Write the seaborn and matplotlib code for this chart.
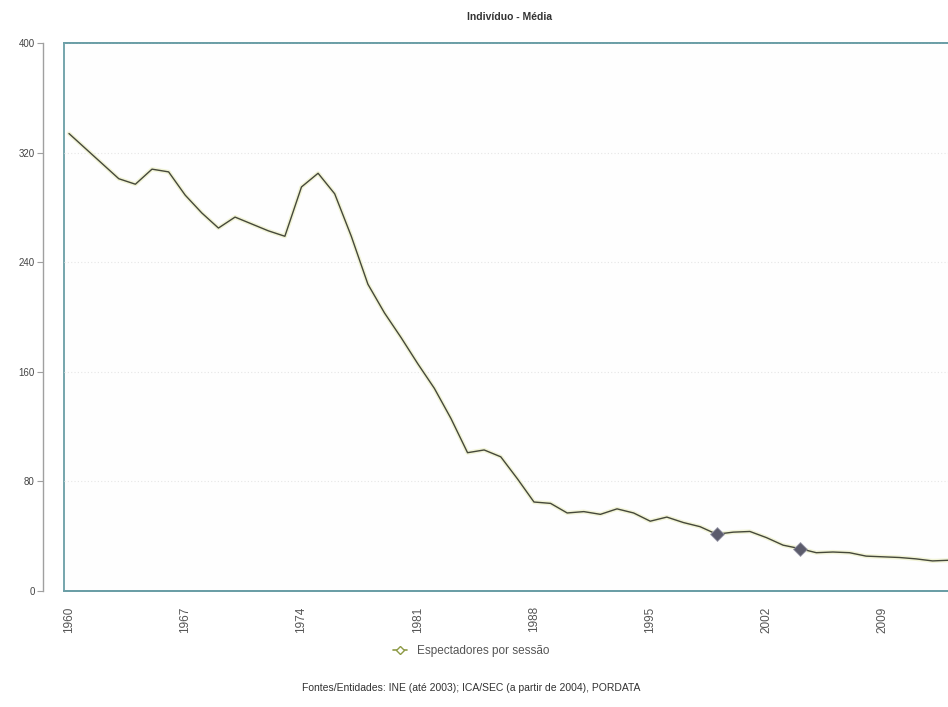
import numpy as np
import pandas as pd
import matplotlib
matplotlib.use("Agg")
import matplotlib.pyplot as plt
from matplotlib.lines import Line2D
import seaborn as sns

sns.set_theme(style="white")
plt.rcParams['font.family'] = ['Liberation Sans', 'DejaVu Sans']

# espectadores por sessão, 1960-2013
years = list(range(1960, 2014))
espectadores = [
    334, 323, 312, 301, 297, 308, 306, 289, 276, 265,
    273, 268, 263, 259, 295, 305, 290, 259, 224, 203,
    185, 166, 148, 126, 101, 103, 98, 82, 65, 64,
    57, 58, 56, 60, 57, 51, 54, 50, 47, 41.5,
    43, 43.5, 39, 33.5, 31, 28, 28.5, 28, 25.5, 25,
    24.5, 23.5, 22, 22.5,
]
break_years = [1999, 2004]  # quebras de série
tick_years = [1960, 1967, 1974, 1981, 1988, 1995, 2002, 2009]
y_ticks = [0, 80, 160, 240, 320, 400]

df = pd.DataFrame({"ano": years, "valor": espectadores})
brk = df[df["ano"].isin(break_years)]

frame_col = "#6a9ea6"
line_col = "#45483a"

fig = plt.figure(figsize=(9.48, 7.07), dpi=100)
ax = fig.add_axes([0.0675, 0.164, 0.96, 0.775])

# halo + linha
sns.lineplot(data=df, x="ano", y="valor", ax=ax, color="#f1f3d6", linewidth=3, legend=False)
sns.lineplot(data=df, x="ano", y="valor", ax=ax, color=line_col, linewidth=1.0, legend=False)
sns.scatterplot(data=brk, x="ano", y="valor", ax=ax, marker="D", s=50,
                color="#5c5c6c", edgecolor="#9a9aaa", linewidth=0.6, zorder=5, legend=False)

ax.set_xlim(1959.7, 2014.5)
ax.set_ylim(0, 400)
ax.set_xticks(tick_years)
ax.set_xticklabels([str(y) for y in tick_years], rotation=90)
ax.set_yticks(y_ticks)
ax.set_xlabel("")
ax.set_ylabel("")

ax.yaxis.grid(True, linestyle=(0, (1, 2)), color="#e6e6e6", linewidth=0.8)
ax.xaxis.grid(False)

ax.patch.set_facecolor("#fefefe")
ax.patch.set_edgecolor(frame_col)
ax.patch.set_linewidth(1.3)

for s in ["top", "bottom"]:
    ax.spines[s].set_color(frame_col)
    ax.spines[s].set_linewidth(1.3)
ax.spines["right"].set_visible(False)
ax.spines["left"].set_position(("outward", 15))
ax.spines["left"].set_color("#a0a0a0")
ax.spines["left"].set_linewidth(1)

ax.tick_params(axis="y", which="both", left=True, length=4, width=0.8, color="#a0a0a0",
               labelsize=7, labelcolor="#444444", pad=2)
ax.tick_params(axis="x", which="both", bottom=False, labelsize=8.5, labelcolor="#555555", pad=5)

fig.text(0.537, 0.976, "Indivíduo - Média", ha="center", va="center", fontsize=7.5,
         fontweight="bold", color="#333333")

handle = Line2D([0], [0], color="#8d9a45", linewidth=1.2, marker="D", markersize=4,
                markerfacecolor="white", markeredgecolor="#8d9a45")
fig.legend([handle], ["Espectadores por sessão"], loc="center", bbox_to_anchor=(0.497, 0.079),
           frameon=False, fontsize=8.5, handlelength=1.2, handletextpad=0.9,
           labelcolor="#555555")

fig.text(0.497, 0.027, "Fontes/Entidades: INE (até 2003); ICA/SEC (a partir de 2004), PORDATA",
         ha="center", va="center", fontsize=7.5, color="#333333")

fig.savefig("out.png", dpi=100)
